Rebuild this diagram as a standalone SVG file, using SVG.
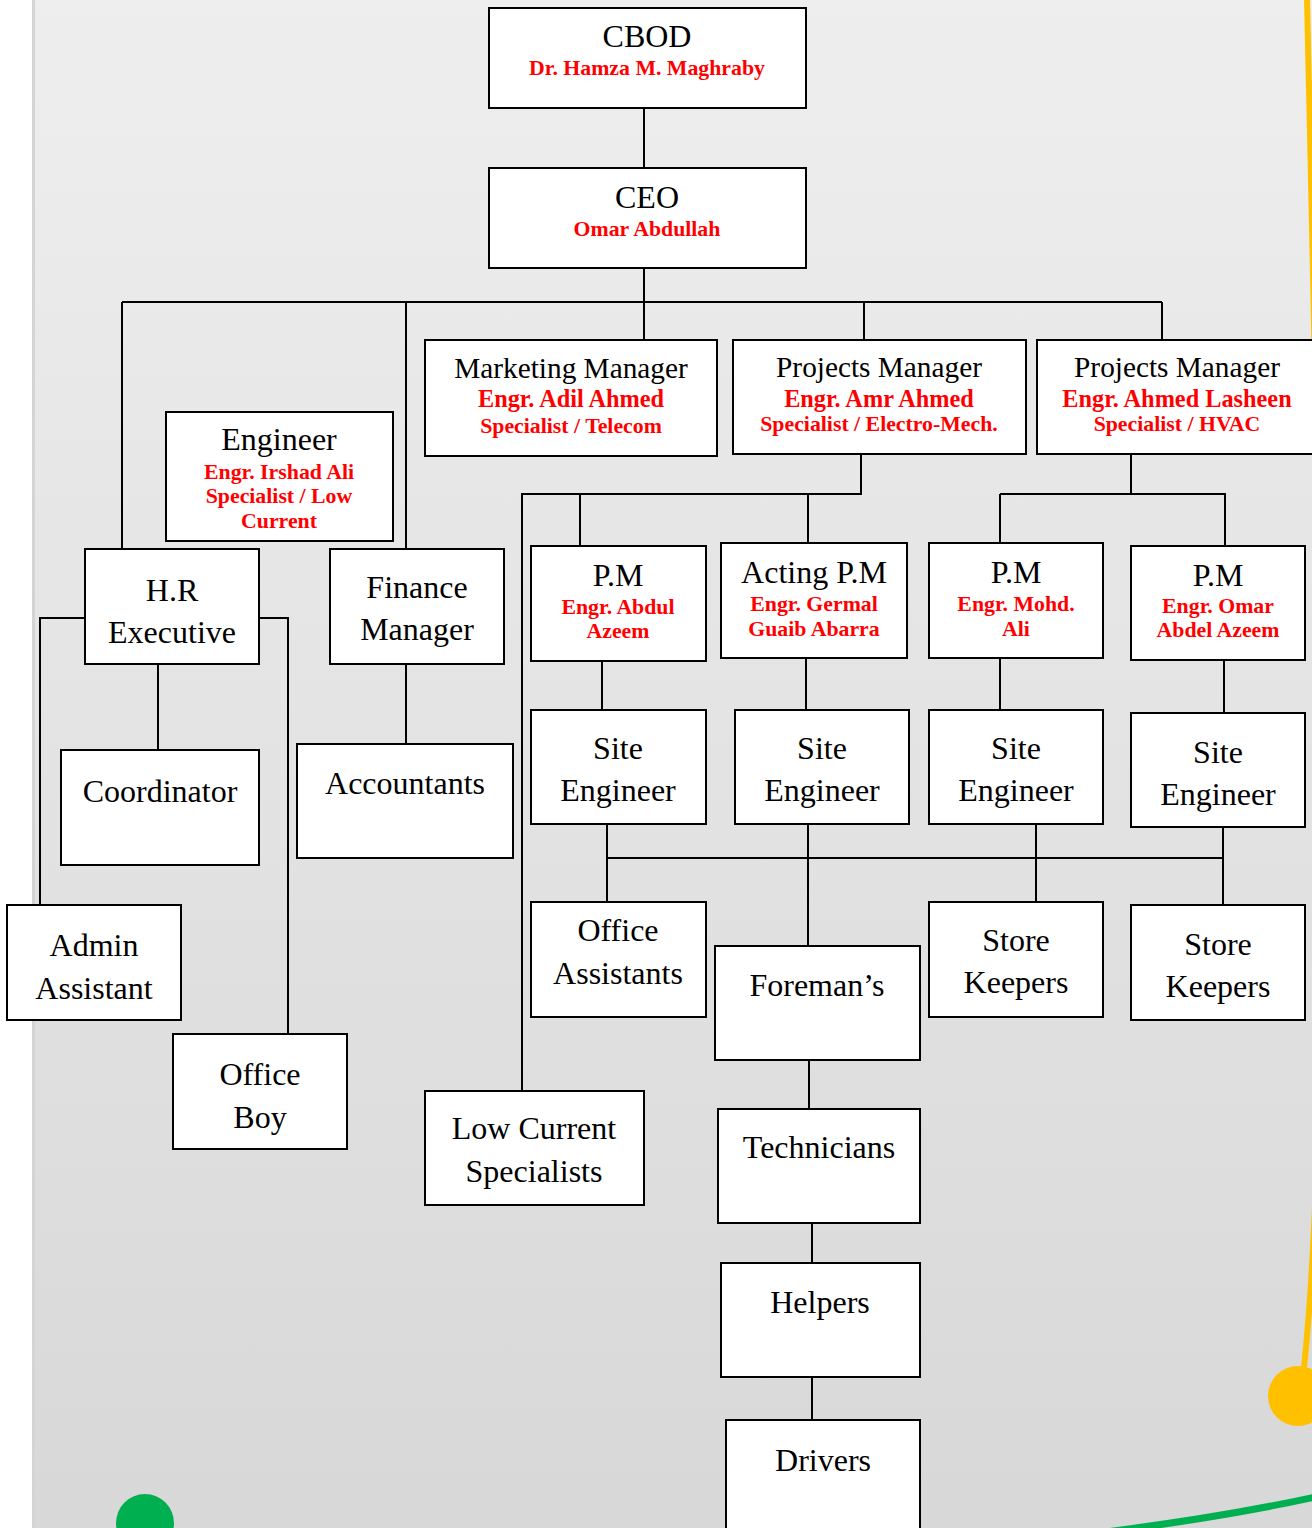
<svg xmlns="http://www.w3.org/2000/svg" width="1312" height="1528" viewBox="0 0 1312 1528">
<defs>
<linearGradient id="bg" x1="0" y1="0" x2="0" y2="1">
<stop offset="0" stop-color="#eeeeee"/>
<stop offset="1" stop-color="#d8d8d8"/>
</linearGradient>
<style>
.box{fill:#ffffff;stroke:#000000;stroke-width:2}
.t{font-family:"Liberation Serif","Times New Roman",serif;font-size:32px;fill:#000000;text-anchor:middle}
.m{font-size:29.3px}
.r{font-family:"Liberation Serif","Times New Roman",serif;font-size:21.8px;font-weight:bold;fill:#ff0000;text-anchor:middle}
.r2{font-size:24.3px}
.c{stroke:#000000;stroke-width:2;fill:none}
</style>
</defs>
<rect x="0" y="0" width="1312" height="1528" fill="#ffffff"/>
<rect x="32" y="0" width="1280" height="1528" fill="url(#bg)"/>
<rect x="32" y="0" width="3" height="1528" fill="#d4d4d4"/>
<g id="decor">
<path d="M1307,-2 C1318,500 1334,1120 1302,1385" stroke="#ffc000" stroke-width="6" fill="none"/>
<circle cx="1298" cy="1396" r="30" fill="#ffc000"/>
<circle cx="145" cy="1523" r="29" fill="#00b050"/>
<path d="M1090,1534 Q1220,1518 1320,1496" stroke="#00b050" stroke-width="7" fill="none"/>
</g>
<g id="connectors">
<path class="c" d="M644,108V168"/>
<path class="c" d="M644,268V302"/>
<path class="c" d="M122,302H1162"/>
<path class="c" d="M122,302V549"/>
<path class="c" d="M406,302V549"/>
<path class="c" d="M644,302V340"/>
<path class="c" d="M864,302V340"/>
<path class="c" d="M1162,302V340"/>
<path class="c" d="M85,618H40V905"/>
<path class="c" d="M259,618H288V1034"/>
<path class="c" d="M158,664V750"/>
<path class="c" d="M406,664V744"/>
<path class="c" d="M861,454V494H522V1091"/>
<path class="c" d="M580,494V546"/>
<path class="c" d="M808,494V543"/>
<path class="c" d="M1131,454V494"/>
<path class="c" d="M1000,494H1225V546"/>
<path class="c" d="M1000,494V543"/>
<path class="c" d="M602,661V710"/>
<path class="c" d="M806,658V710"/>
<path class="c" d="M1000,658V710"/>
<path class="c" d="M1224,660V713"/>
<path class="c" d="M607,824V902"/>
<path class="c" d="M607,858H1223"/>
<path class="c" d="M808,824V946"/>
<path class="c" d="M1036,824V902"/>
<path class="c" d="M1223,827V905"/>
<path class="c" d="M809,1060V1109"/>
<path class="c" d="M812,1223V1263"/>
<path class="c" d="M812,1377V1420"/>
</g>
<g id="cbod"><rect class="box" x="489" y="8" width="317" height="100"/>
<text class="t" x="647" y="47">CBOD</text>
<text class="r" x="647" y="75">Dr. Hamza M. Maghraby</text></g>
<g id="ceo"><rect class="box" x="489" y="168" width="317" height="100"/>
<text class="t" x="647" y="208">CEO</text>
<text class="r" x="647" y="236">Omar Abdullah</text></g>
<g id="marketing"><rect class="box" x="425" y="340" width="292" height="116"/>
<text class="t m" x="571" y="378">Marketing Manager</text>
<text class="r r2" x="571" y="407">Engr. Adil Ahmed</text>
<text class="r" x="571" y="433">Specialist / Telecom</text></g>
<g id="pm-amr"><rect class="box" x="733" y="340" width="293" height="114"/>
<text class="t m" x="879" y="377">Projects Manager</text>
<text class="r r2" x="879" y="407">Engr. Amr Ahmed</text>
<text class="r" x="879" y="431">Specialist / Electro-Mech.</text></g>
<g id="pm-lasheen"><rect class="box" x="1037" y="340" width="285" height="114"/>
<text class="t m" x="1177" y="377">Projects Manager</text>
<text class="r r2" x="1177" y="407">Engr. Ahmed Lasheen</text>
<text class="r" x="1177" y="431">Specialist / HVAC</text></g>
<g id="engineer"><rect class="box" x="166" y="412" width="227" height="129"/>
<text class="t" x="279" y="450">Engineer</text>
<text class="r" x="279" y="479">Engr. Irshad Ali</text>
<text class="r" x="279" y="503">Specialist / Low</text>
<text class="r" x="279" y="528">Current</text></g>
<g id="hr"><rect class="box" x="85" y="549" width="174" height="115"/>
<text class="t" x="172" y="601">H.R</text>
<text class="t" x="172" y="643">Executive</text></g>
<g id="finance"><rect class="box" x="330" y="549" width="174" height="115"/>
<text class="t" x="417" y="598">Finance</text>
<text class="t" x="417" y="640">Manager</text></g>
<g id="coordinator"><rect class="box" x="61" y="750" width="198" height="115"/>
<text class="t" x="160" y="802">Coordinator</text></g>
<g id="accountants"><rect class="box" x="297" y="744" width="216" height="114"/>
<text class="t" x="405" y="794">Accountants</text></g>
<g id="admin"><rect class="box" x="7" y="905" width="174" height="115"/>
<text class="t" x="94" y="956">Admin</text>
<text class="t" x="94" y="999">Assistant</text></g>
<g id="officeboy"><rect class="box" x="173" y="1034" width="174" height="115"/>
<text class="t" x="260" y="1085">Office</text>
<text class="t" x="260" y="1128">Boy</text></g>
<g id="pm-abdul"><rect class="box" x="531" y="546" width="175" height="115"/>
<text class="t" x="618" y="586">P.M</text>
<text class="r" x="618" y="614">Engr. Abdul</text>
<text class="r" x="618" y="638">Azeem</text></g>
<g id="pm-germal"><rect class="box" x="721" y="543" width="186" height="115"/>
<text class="t" x="814" y="583">Acting P.M</text>
<text class="r" x="814" y="611">Engr. Germal</text>
<text class="r" x="814" y="636">Guaib Abarra</text></g>
<g id="pm-mohd"><rect class="box" x="929" y="543" width="174" height="115"/>
<text class="t" x="1016" y="583">P.M</text>
<text class="r" x="1016" y="611">Engr. Mohd.</text>
<text class="r" x="1016" y="636">Ali</text></g>
<g id="pm-omar"><rect class="box" x="1131" y="546" width="174" height="114"/>
<text class="t" x="1218" y="586">P.M</text>
<text class="r" x="1218" y="613">Engr. Omar</text>
<text class="r" x="1218" y="637">Abdel Azeem</text></g>
<g id="site1"><rect class="box" x="531" y="710" width="175" height="114"/>
<text class="t" x="618" y="759">Site</text>
<text class="t" x="618" y="801">Engineer</text></g>
<g id="site2"><rect class="box" x="735" y="710" width="174" height="114"/>
<text class="t" x="822" y="759">Site</text>
<text class="t" x="822" y="801">Engineer</text></g>
<g id="site3"><rect class="box" x="929" y="710" width="174" height="114"/>
<text class="t" x="1016" y="759">Site</text>
<text class="t" x="1016" y="801">Engineer</text></g>
<g id="site4"><rect class="box" x="1131" y="713" width="174" height="114"/>
<text class="t" x="1218" y="763">Site</text>
<text class="t" x="1218" y="805">Engineer</text></g>
<g id="officeassistants"><rect class="box" x="531" y="902" width="175" height="115"/>
<text class="t" x="618" y="941">Office</text>
<text class="t" x="618" y="984">Assistants</text></g>
<g id="foreman"><rect class="box" x="715" y="946" width="205" height="114"/>
<text class="t" x="817" y="996">Foreman’s</text></g>
<g id="store1"><rect class="box" x="929" y="902" width="174" height="115"/>
<text class="t" x="1016" y="951">Store</text>
<text class="t" x="1016" y="993">Keepers</text></g>
<g id="store2"><rect class="box" x="1131" y="905" width="174" height="115"/>
<text class="t" x="1218" y="955">Store</text>
<text class="t" x="1218" y="997">Keepers</text></g>
<g id="lowcurrent"><rect class="box" x="425" y="1091" width="219" height="114"/>
<text class="t" x="534" y="1139">Low Current</text>
<text class="t" x="534" y="1182">Specialists</text></g>
<g id="technicians"><rect class="box" x="718" y="1109" width="202" height="114"/>
<text class="t" x="819" y="1158">Technicians</text></g>
<g id="helpers"><rect class="box" x="721" y="1263" width="199" height="114"/>
<text class="t" x="820" y="1313">Helpers</text></g>
<g id="drivers"><rect class="box" x="726" y="1420" width="194" height="120"/>
<text class="t" x="823" y="1471">Drivers</text></g>
</svg>
